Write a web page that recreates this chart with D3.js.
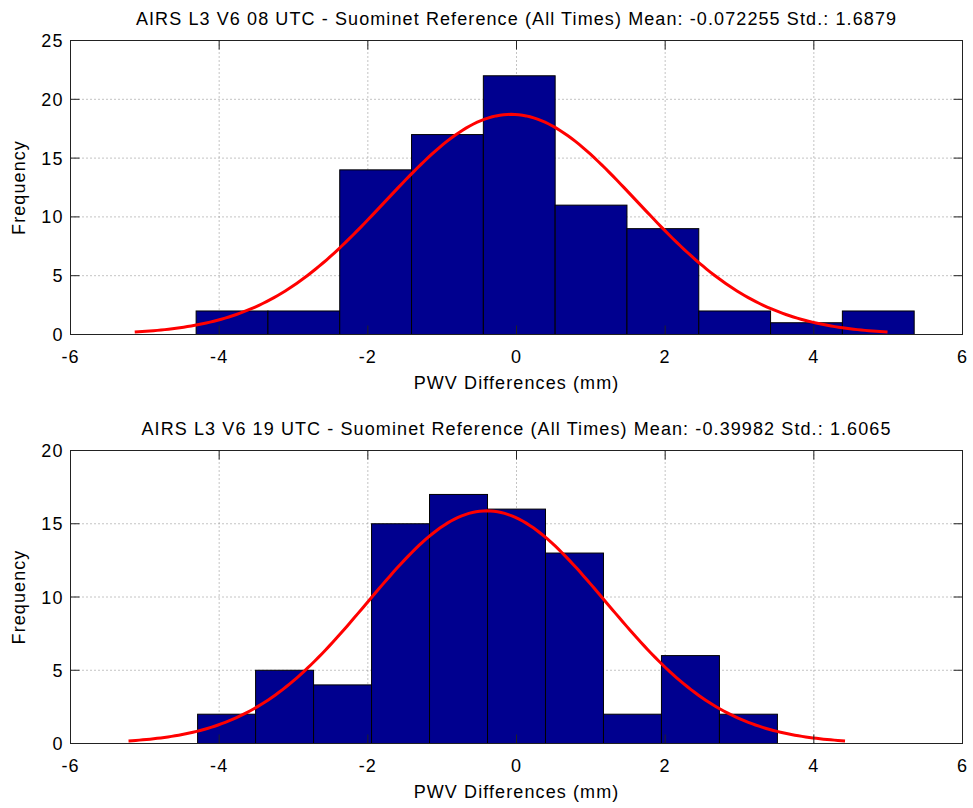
<!DOCTYPE html>
<html>
<head>
<meta charset="utf-8">
<script src="https://cdn.jsdelivr.net/npm/d3@7"></script>
<style>
  html, body { margin: 0; padding: 0; background: #fff; }
  svg { display: block; font-family: "Liberation Sans", Arial, Helvetica, sans-serif; }
  text { letter-spacing: 1.1px; }
</style>
</head>
<body>
<svg id="chart" width="973" height="808"></svg>
<script>
// Histogram counts of PWV differences (mm), AIRS L3 V6 vs Suominet
const counts08 = [2, 2, 14, 17, 22, 11, 9, 2, 1, 2];
const range08 = [-4.31, 5.35];          // data min / max -> bin edges
const mean08 = -0.072255, std08 = 1.6879;

const counts19 = [2, 5, 4, 15, 17, 16, 13, 2, 6, 2];
const range19 = [-4.29, 3.51];
const mean19 = -0.39982, std19 = 1.6065;

const xTicks = [-6, -4, -2, 0, 2, 4, 6];
const yTicks08 = [0, 5, 10, 15, 20, 25];
const yTicks19 = [0, 5, 10, 15, 20];

const titles = [
  "AIRS L3 V6 08 UTC - Suominet Reference (All Times) Mean: -0.072255 Std.: 1.6879",
  "AIRS L3 V6 19 UTC - Suominet Reference (All Times) Mean: -0.39982 Std.: 1.6065"
];

const svg = d3.select("#chart");
const FS = 18;

function panel(cfg) {
  const { top, bottom, left, right, counts, range, mean, std, yMax, yTicks, title } = cfg;
  const x = d3.scaleLinear().domain([-6, 6]).range([left, right]);
  const y = d3.scaleLinear().domain([0, yMax]).range([bottom, top]);
  const g = svg.append("g");

  const nb = counts.length;
  const w = (range[1] - range[0]) / nb;
  const bins = counts.map((c, i) => ({ x0: range[0] + i * w, x1: range[0] + (i + 1) * w, c }));

  // dotted grid
  g.append("g").selectAll("line").data(xTicks.slice(1, -1)).join("line")
    .attr("x1", d => x(d)).attr("x2", d => x(d)).attr("y1", top).attr("y2", bottom)
    .attr("stroke", "#888").attr("stroke-width", 1).attr("stroke-dasharray", "1,3");
  g.append("g").selectAll("line").data(yTicks.slice(1, -1)).join("line")
    .attr("x1", left).attr("x2", right).attr("y1", d => y(d)).attr("y2", d => y(d))
    .attr("stroke", "#888").attr("stroke-width", 1).attr("stroke-dasharray", "1,3");

  // bars
  g.append("g").selectAll("rect").data(bins).join("rect")
    .attr("x", d => x(d.x0)).attr("width", d => x(d.x1) - x(d.x0))
    .attr("y", d => y(d.c)).attr("height", d => y(0) - y(d.c))
    .attr("fill", "#00008f").attr("stroke", "#000").attr("stroke-width", 1);

  // fitted normal curve, mean ± 3 std, scaled to counts
  const n = d3.sum(counts);
  const pts = d3.range(0, 201).map(i => {
    const xv = mean - 3 * std + (6 * std) * i / 200;
    const f = n * w / (std * Math.sqrt(2 * Math.PI)) * Math.exp(-0.5 * ((xv - mean) / std) ** 2);
    return [xv, f];
  });
  g.append("path").datum(pts)
    .attr("d", d3.line().x(d => x(d[0])).y(d => y(d[1])))
    .attr("fill", "none").attr("stroke", "#ff0000").attr("stroke-width", 3);

  // box
  g.append("rect").attr("x", left).attr("y", top).attr("width", right - left).attr("height", bottom - top)
    .attr("fill", "none").attr("stroke", "#222").attr("stroke-width", 1);

  // inward ticks on all four sides
  const tl = 9;
  const tk = g.append("g").attr("stroke", "#222").attr("stroke-width", 1);
  xTicks.forEach(t => {
    tk.append("line").attr("x1", x(t)).attr("x2", x(t)).attr("y1", bottom).attr("y2", bottom - tl);
    tk.append("line").attr("x1", x(t)).attr("x2", x(t)).attr("y1", top).attr("y2", top + tl);
  });
  yTicks.forEach(t => {
    tk.append("line").attr("x1", left).attr("x2", left + tl).attr("y1", y(t)).attr("y2", y(t));
    tk.append("line").attr("x1", right).attr("x2", right - tl).attr("y1", y(t)).attr("y2", y(t));
  });

  // tick labels
  g.append("g").selectAll("text").data(xTicks).join("text")
    .attr("x", d => x(d)).attr("y", bottom + 28).attr("text-anchor", "middle")
    .attr("font-size", FS).attr("fill", "#000").text(d => d);
  g.append("g").selectAll("text").data(yTicks).join("text")
    .attr("x", left - 7).attr("y", d => y(d) + 6.5).attr("text-anchor", "end")
    .attr("font-size", FS).attr("fill", "#000").text(d => d);

  // labels
  g.append("text").attr("x", (left + right) / 2).attr("y", bottom + 54).attr("text-anchor", "middle")
    .attr("font-size", FS).text("PWV Differences (mm)");
  g.append("text").attr("transform", `translate(${left - 46},${(top + bottom) / 2}) rotate(-90)`)
    .attr("text-anchor", "middle").attr("font-size", FS).text("Frequency");
  g.append("text").attr("x", (left + right) / 2).attr("y", top - 16).attr("text-anchor", "middle")
    .attr("font-size", FS).text(title);
}

panel({ top: 40.5, bottom: 334.5, left: 70.5, right: 962.5, counts: counts08, range: range08,
        mean: mean08, std: std08, yMax: 25, yTicks: yTicks08, title: titles[0] });
panel({ top: 450.5, bottom: 743.5, left: 70.5, right: 962.5, counts: counts19, range: range19,
        mean: mean19, std: std19, yMax: 20, yTicks: yTicks19, title: titles[1] });
</script>
</body>
</html>
